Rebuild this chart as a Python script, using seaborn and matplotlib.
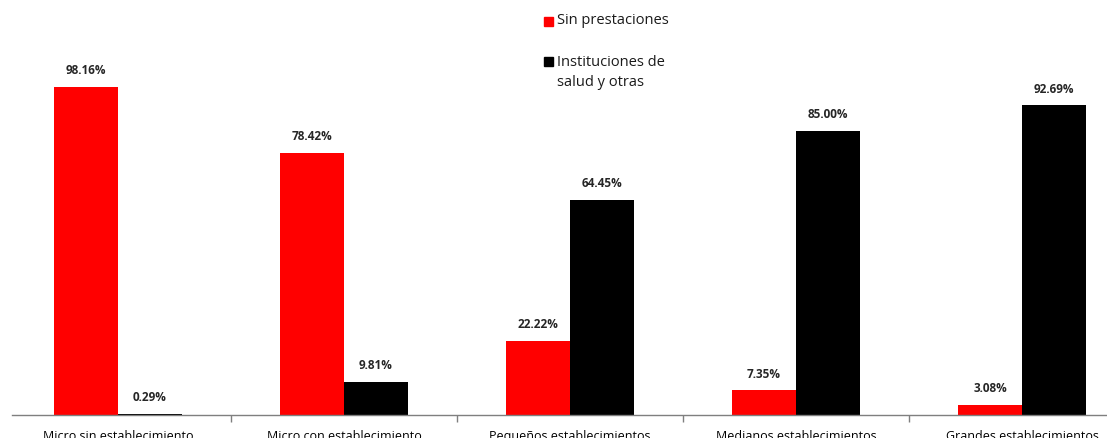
import matplotlib.pyplot as plt
import seaborn as sns
import pandas as pd

categories = ['Micro sin establecimiento', 'Micro con establecimiento',
              'Pequeños establecimientos', 'Medianos establecimientos',
              'Grandes establecimientos']
sin_prestaciones = [98.16, 78.42, 22.22, 7.35, 3.08]
instituciones = [0.29, 9.81, 64.45, 85.00, 92.69]
series_names = ['Sin prestaciones', 'Instituciones de\nsalud y otras']

df = pd.DataFrame({
    'Categoria': categories * 2,
    'Serie': [series_names[0]] * 5 + [series_names[1]] * 5,
    'Valor': sin_prestaciones + instituciones,
})

sns.set_theme(style="white")
plt.rcParams['font.family'] = ['Open Sans', 'DejaVu Sans']

W, H = 1107, 438
fig = plt.figure(figsize=(W / 100, H / 100), dpi=100)
# axis line from x=12px to the right edge, baseline at y=415px
ax = fig.add_axes([12 / W, (H - 415) / H, (W - 12) / W, 401 / H])

sns.barplot(data=df, x='Categoria', y='Valor', hue='Serie',
            palette=['#ff0000', '#000000'], width=0.566, ax=ax,
            saturation=1, legend=False, linewidth=0)

for cont in ax.containers:
    ax.bar_label(cont, fmt='%.2f%%', padding=7, fontsize=8.5,
                 fontweight='bold', color='#262626')

ax.set_xlim(-0.469, 4.376)
ax.set_ylim(0, 120)
ax.set_xlabel('')
ax.set_ylabel('')
ax.set_yticks([])
for s in ['top', 'right', 'left']:
    ax.spines[s].set_visible(False)
ax.spines['bottom'].set_color('#7f7f7f')
ax.spines['bottom'].set_linewidth(1)

ax.set_xticks(range(5))
ax.set_xticklabels(categories, fontsize=9, color='black')
ax.tick_params(axis='x', which='major', length=0, pad=11)
ax.set_xticks([0.5, 1.5, 2.5, 3.5], minor=True)
ax.tick_params(axis='x', which='minor', length=5, width=1, color='#7f7f7f',
               direction='out', bottom=True)

# legend drawn as in the original, at the top centre
fig.patches.append(plt.Rectangle((544 / W, 1 - 26 / H), 9 / W, 9 / H,
                                 transform=fig.transFigure, color='#ff0000'))
fig.text(557 / W, 1 - 21 / H, series_names[0], fontsize=10.5,
         va='center', ha='left', color='#1a1a1a')
fig.patches.append(plt.Rectangle((544 / W, 1 - 66 / H), 9 / W, 9 / H,
                                 transform=fig.transFigure, color='#000000'))
fig.text(557 / W, 1 - 62 / H, 'Instituciones de', fontsize=10.5,
         va='center', ha='left', color='#1a1a1a')
fig.text(557 / W, 1 - 83 / H, 'salud y otras', fontsize=10.5,
         va='center', ha='left', color='#1a1a1a')

fig.savefig('out.png', dpi=100)
